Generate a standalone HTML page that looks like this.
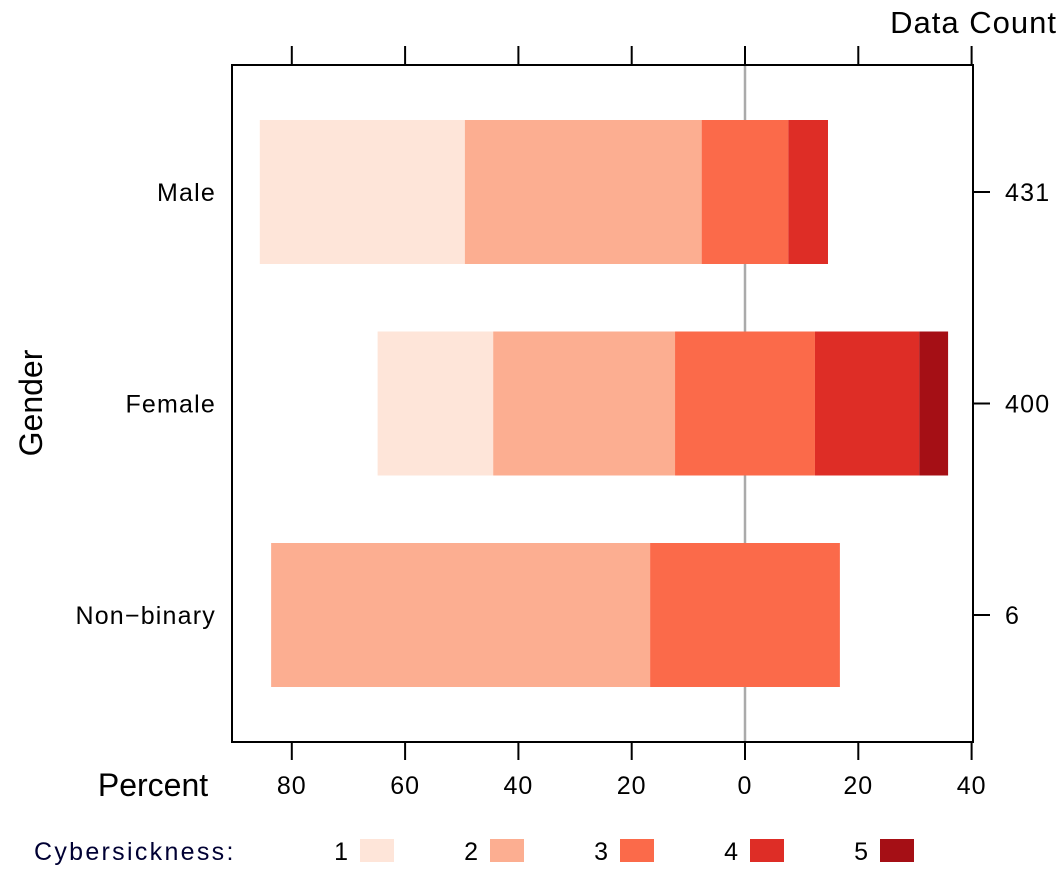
<!DOCTYPE html>
<html><head><meta charset="utf-8"><style>
body{margin:0;background:#fff}
svg text{font-family:"Liberation Sans",sans-serif;fill:#000}
</style></head><body>
<svg id="chart" width="1061" height="886">
<g id="g"></g>
</svg>
<script>
const groups=["Male","Female","Non\u2212binary"];
const counts=[431,400,6];
const levels=["1","2","3","4","5"];
const colors=["#FEE5D9","#FCAE91","#FB6A4A","#DE2D26","#A50F15"];
const s1=[36.2,20.4,0];
const s2=[41.8,32.1,66.9];
const s3=[15.3,24.7,33.5];
const s4=[7.0,18.4,0];
const s5=[0,5.1,0];
const ticksTop=[80,60,40,20,0,20,40];
const tickVals=[-80,-60,-40,-20,0,20,40];
const NS="http://www.w3.org/2000/svg";
const g=document.getElementById('g');
const x0=745,k=5.665;
function X(v){return x0+v*k;}
function Y(i){return 192+i*211.5;}
function el(t,a,txt){const e=document.createElementNS(NS,t);for(const n in a)e.setAttribute(n,a[n]);if(txt!==undefined)e.textContent=txt;g.appendChild(e);return e;}
let zl=el('line',{x1:X(0),x2:X(0),y1:65,y2:742,stroke:'#aaa','stroke-width':2.5});


const series=[s1,s2,s3,s4,s5];
groups.forEach((gname,i)=>{
  let start=-(series[0][i]+series[1][i]+series[2][i]/2);
  for(let j=0;j<5;j++){
    const v=series[j][i];
    if(v>0){
      const r=el('rect',{x:X(start),y:Y(i)-72,width:v*k,height:144,fill:colors[j]});
      
      
    }
    start+=v;
  }
  const lt=el('text',{x:216,y:Y(i)+9,'text-anchor':'end','font-size':25,'letter-spacing':1.2},gname);
  
  
  el('line',{x1:973,x2:990,y1:Y(i),y2:Y(i),stroke:'#000','stroke-width':2});
  const ct=el('text',{x:1005,y:Y(i)+9,'font-size':25,'letter-spacing':1.2},counts[i]);
  
  
});
const fr=el('rect',{x:232,y:65,width:741,height:677,fill:'none',stroke:'#000','stroke-width':2});


tickVals.forEach((v,i)=>{
  el('line',{x1:X(v),x2:X(v),y1:46,y2:65,stroke:'#000','stroke-width':2});
  el('line',{x1:X(v),x2:X(v),y1:742,y2:760,stroke:'#000','stroke-width':2});
  const t=el('text',{x:X(v),y:794,'text-anchor':'middle','font-size':25,'letter-spacing':1},ticksTop[i]);
  
  
});
let t=el('text',{x:153,y:796,'text-anchor':'middle','font-size':32},'Percent');


t=el('text',{x:1057,y:33,'text-anchor':'end','font-size':31,'letter-spacing':1},'Data Count');


t=el('text',{x:42,y:403,'text-anchor':'middle','font-size':32,transform:'rotate(-90 42 403)'},'Gender');


t=el('text',{x:34,y:860,'font-size':25,'letter-spacing':2.3,style:'fill:#000033'},'Cybersickness:');


const lx=[360,490,620,750,880];
levels.forEach((l,j)=>{
  const tt=el('text',{x:lx[j]-12,y:860,'text-anchor':'end','font-size':25},l);
  
  
  const r=el('rect',{x:lx[j],y:839,width:34,height:23,fill:colors[j]});
  
  
});
</script>
</body></html>
